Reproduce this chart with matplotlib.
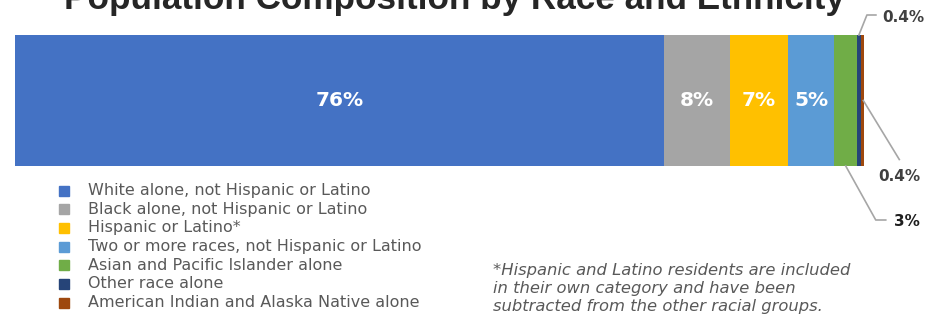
import matplotlib
matplotlib.use("Agg")
import matplotlib.pyplot as plt
from matplotlib.patches import Rectangle
import numpy as np

### data ###
groups = [
    "White alone, not Hispanic or Latino",
    "Black alone, not Hispanic or Latino",
    "Hispanic or Latino*",
    "Two or more races, not Hispanic or Latino",
    "Asian and Pacific Islander alone",
    "Other race alone",
    "American Indian and Alaska Native alone",
]
shares = [76.4, 7.8, 6.9, 5.4, 2.7, 0.4, 0.4]
share_labels = ["76%", "8%", "7%", "5%", "3%", "0.4%", "0.4%"]
colors = ["#4472C4", "#A5A5A5", "#FFC000", "#5B9BD5", "#70AD47", "#264478", "#9E480E"]
title = "Population Composition by Race and Ethnicity"
footnote = ("*Hispanic and Latino residents are included\n"
            "in their own category and have been\n"
            "subtracted from the other racial groups.")
############

FONT = "DejaVu Sans"
W, H = 936, 317
fig = plt.figure(figsize=(W / 100, H / 100), dpi=100)

def fx(px):
    return px / W

def fy(py):
    return 1 - py / H

ax = fig.add_axes([fx(15), fy(166), fx(864) - fx(15), fy(35) - fy(166)])
lefts = np.concatenate([[0], np.cumsum(shares)[:-1]])
ax.barh(0, shares, left=lefts, height=1.0, color=colors, edgecolor="none")
ax.set_xlim(0, sum(shares))
ax.set_ylim(-0.5, 0.5)
ax.axis("off")

# labels inside the wide segments
for i in range(4):
    ax.text(lefts[i] + shares[i] / 2, 0, share_labels[i], ha="center", va="center",
            color="white", fontsize=14.5, fontweight="bold", family=FONT)

# leader lines for small segments (pixel offsets from the segment ends)
px_x = ax.get_xlim()[1] / (864 - 15)
px_y = 1.0 / (166 - 35)
line_kw = dict(color="#A6A6A6", lw=1.2, clip_on=False)

# other race alone -> above
c5 = lefts[5] + shares[5] / 2
ax.plot([c5, c5 + 8 * px_x, c5 + 17 * px_x],
        [0.5, 0.5 + 20 * px_y, 0.5 + 20 * px_y], **line_kw)
ax.text(c5 + 23 * px_x, 0.5 + 18 * px_y, share_labels[5], ha="left", va="center",
        fontsize=11, fontweight="bold", color="#404040", family=FONT)

# american indian -> lower right
c6 = lefts[6] + shares[6] / 2
ax.plot([c6 + 1 * px_x, c6 + 37 * px_x], [0.0, -59 * px_y], **line_kw)
ax.text(c6 + 37 * px_x, -76 * px_y, share_labels[6], ha="center", va="center",
        fontsize=11, fontweight="bold", color="#404040", family=FONT)

# asian -> below
c4 = lefts[4] + shares[4] / 2
ax.plot([c4, c4 + 30 * px_x, c4 + 40 * px_x],
        [-0.5, -0.5 - 54 * px_y, -0.5 - 54 * px_y], **line_kw)
ax.text(c4 + 48 * px_x, -0.5 - 56 * px_y, share_labels[4], ha="left", va="center",
        fontsize=11, fontweight="bold", color="#1F1F1F", family=FONT)

# title (cut at the top edge)
fig.text(fx(454), fy(9), title, ha="center", va="baseline", fontsize=25.3,
         fontweight="bold", color="#262626", family="Liberation Sans")

# legend
for k, (g, c) in enumerate(zip(groups, colors)):
    yc = 190.5 + k * 18.7
    fig.patches.append(Rectangle((fx(59), fy(yc + 5)), fx(10), fy(yc - 5) - fy(yc + 5),
                                 transform=fig.transFigure, color=c, figure=fig))
    fig.text(fx(88), fy(yc), g, ha="left", va="center", fontsize=11.5,
             color="#595959", family=FONT)

for k, line in enumerate(footnote.split("\n")):
    fig.text(fx(493), fy(270 + k * 18.3), line, ha="left", va="center", fontsize=11.8,
             style="italic", color="#595959", family=FONT)

fig.savefig("out.png", dpi=100)
